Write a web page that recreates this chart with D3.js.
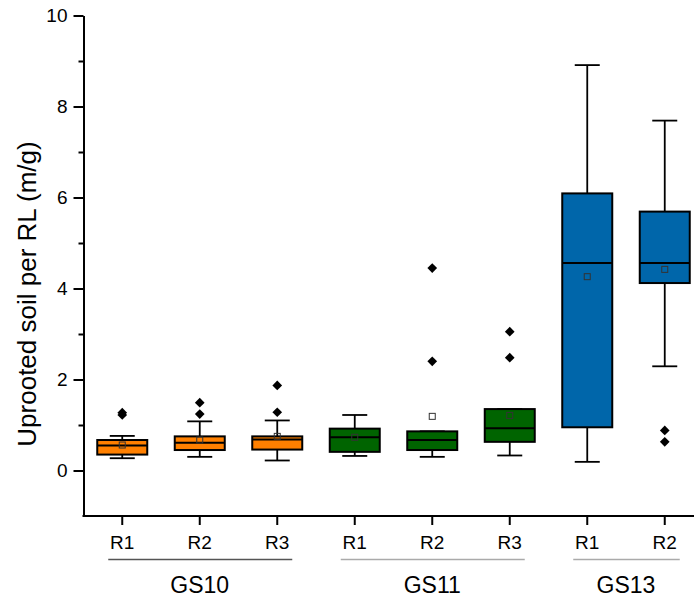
<!DOCTYPE html>
<html>
<head>
<meta charset="utf-8">
<script src="https://cdn.jsdelivr.net/npm/d3@7"></script>
<style>
  body { margin: 0; background: #fff; }
  text { font-family: "Liberation Sans", Arial, sans-serif; fill: #000; }
</style>
</head>
<body>
<div id="chart"></div>
<script>
// data
const groups = ['GS10', 'GS11', 'GS13'];
const groupColors = ['#ff8000', '#006400', '#0066aa'];
const categories = ['R1', 'R2', 'R3', 'R1', 'R2', 'R3', 'R1', 'R2'];
const catGroup = [0, 0, 0, 1, 1, 1, 2, 2];
const whiskerLow = [0.27, 0.30, 0.22, 0.32, 0.30, 0.33, 0.19, 2.29];
const q1 = [0.35, 0.45, 0.46, 0.41, 0.45, 0.63, 0.95, 4.12];
const median = [0.55, 0.61, 0.68, 0.73, 0.67, 0.93, 4.56, 4.56];
const q3 = [0.67, 0.75, 0.75, 0.92, 0.86, 1.35, 6.09, 5.69];
const whiskerHigh = [0.76, 1.08, 1.10, 1.22, 0.86, 1.35, 8.91, 7.69];
const means = [0.56, 0.67, 0.75, 0.73, 1.19, 1.21, 4.26, 4.42];
const outliers = [[1.27, 1.22], [1.49, 1.24], [1.87, 1.28], [], [4.45, 2.40], [3.05, 2.48], [], [0.88, 0.63]];
const yTicks = [0, 2, 4, 6, 8, 10];
const yMinor = [1, 3, 5, 7, 9];

const W = 694, H = 601;
const svg = d3.select('#chart').append('svg').attr('width', W).attr('height', H);

const ids = categories.map((c, i) => i);
const x = d3.scaleBand().domain(ids).range([83.5, 703.5]);
const y = d3.scaleLinear().domain([-1, 10]).range([516, 15.5]);
const boxW = 50, capW = 25;

// boxes
const g = svg.append('g');
const items = g.selectAll('g.item').data(ids).enter().append('g').attr('class', 'item');
const cx = i => x(i) + x.bandwidth() / 2;

items.append('line')
  .attr('x1', cx).attr('x2', cx)
  .attr('y1', i => y(whiskerHigh[i])).attr('y2', i => y(q3[i]))
  .attr('stroke', '#000').attr('stroke-width', 1.8);
items.append('line')
  .attr('x1', cx).attr('x2', cx)
  .attr('y1', i => y(q1[i])).attr('y2', i => y(whiskerLow[i]))
  .attr('stroke', '#000').attr('stroke-width', 1.8);
items.append('line')
  .attr('x1', i => cx(i) - capW / 2).attr('x2', i => cx(i) + capW / 2)
  .attr('y1', i => y(whiskerHigh[i])).attr('y2', i => y(whiskerHigh[i]))
  .attr('stroke', '#000').attr('stroke-width', 1.8);
items.append('line')
  .attr('x1', i => cx(i) - capW / 2).attr('x2', i => cx(i) + capW / 2)
  .attr('y1', i => y(whiskerLow[i])).attr('y2', i => y(whiskerLow[i]))
  .attr('stroke', '#000').attr('stroke-width', 1.8);
items.append('rect')
  .attr('x', i => cx(i) - boxW / 2)
  .attr('width', boxW)
  .attr('y', i => y(q3[i]))
  .attr('height', i => y(q1[i]) - y(q3[i]))
  .attr('fill', i => groupColors[catGroup[i]])
  .attr('stroke', '#000').attr('stroke-width', 2);
items.append('line')
  .attr('x1', i => cx(i) - boxW / 2).attr('x2', i => cx(i) + boxW / 2)
  .attr('y1', i => y(median[i])).attr('y2', i => y(median[i]))
  .attr('stroke', '#000').attr('stroke-width', 2);
items.append('rect')
  .attr('x', i => cx(i) - 3).attr('y', i => y(means[i]) - 3)
  .attr('width', 6).attr('height', 6)
  .attr('fill', 'none').attr('stroke', '#333').attr('stroke-width', 1);

const diamond = d3.symbol().type(d3.symbolDiamond2).size(60);
items.selectAll('path.out')
  .data(i => outliers[i].map(v => ({ i, v })))
  .enter().append('path')
  .attr('class', 'out')
  .attr('d', diamond)
  .attr('transform', d => `translate(${cx(d.i)},${y(d.v)})`)
  .attr('fill', '#000');

// y axis
const yAxis = svg.append('g').attr('transform', 'translate(83.5,0)')
  .call(d3.axisLeft(y).tickValues(yTicks).tickSize(10).tickPadding(6).tickSizeOuter(0));
yAxis.selectAll('text').style('font-size', '19px');
svg.append('g').attr('transform', 'translate(83.5,0)')
  .call(d3.axisLeft(y).tickValues(yMinor).tickSize(5).tickFormat('').tickSizeOuter(0))
  .select('.domain').remove();

// x axis
const xAxis = svg.append('g').attr('transform', 'translate(0,516)')
  .call(d3.axisBottom(x).tickSize(9).tickPadding(11).tickSizeOuter(0).tickFormat(i => categories[i]));
xAxis.selectAll('text').style('font-size', '19px');
xAxis.select('.domain').attr('d', 'M82.5,0H694');

svg.selectAll('.domain, .tick line').attr('stroke', '#000').attr('stroke-width', 2);

// group underlines and labels
const lineColors = ['#555', '#aaa', '#aaa'];
groups.forEach((name, gi) => {
  const members = ids.filter(i => catGroup[i] === gi);
  const x0 = cx(members[0]) - 14, x1 = cx(members[members.length - 1]) + 15;
  svg.append('line')
    .attr('x1', x0).attr('x2', x1).attr('y1', 559.5).attr('y2', 559.5)
    .attr('stroke', lineColors[gi]).attr('stroke-width', 1.5);
  svg.append('text')
    .attr('x', (cx(members[0]) + cx(members[members.length - 1])) / 2)
    .attr('y', 593)
    .attr('text-anchor', 'middle')
    .style('font-size', '23px')
    .text(name);
});

// y label
svg.append('text')
  .attr('transform', 'rotate(-90)')
  .attr('x', -294).attr('y', 36)
  .attr('text-anchor', 'middle')
  .style('font-size', '26px')
  .text('Uprooted soil per RL (m/g)');
</script>
</body>
</html>
